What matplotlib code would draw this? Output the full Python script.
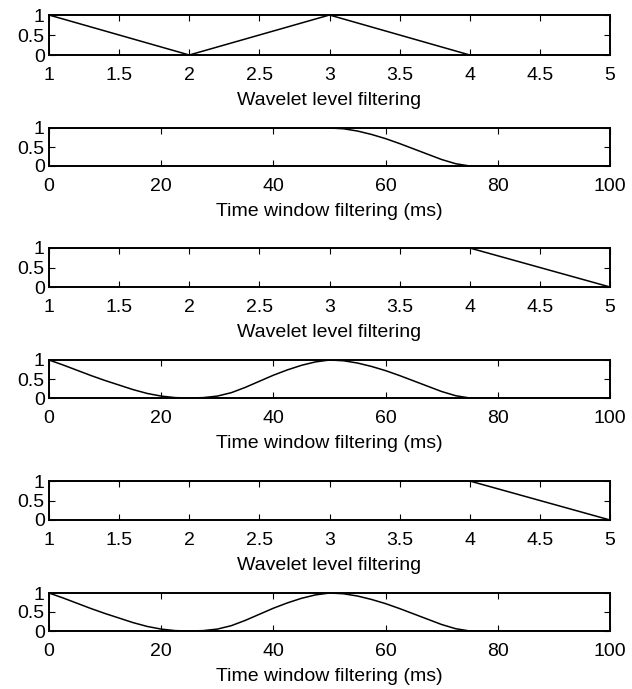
import matplotlib
matplotlib.use("Agg")
import matplotlib.pyplot as plt

plt.rcParams['font.family'] = ['Liberation Sans', 'DejaVu Sans']

# Wavelet level filtering curves
wl_x = [1, 2, 3, 4, 5]
wl_a = [1, 0, 1, 0, 0]
wl_b = [1, 1, 1, 1, 0]

# Time window filtering curves (ms)
tw_t = [0, 2.5, 5, 7.5, 10, 12.5, 15, 17.5, 20, 22.5, 25, 27.5, 30, 32.5, 35,
        37.5, 40, 42.5, 45, 47.5, 50, 52.5, 55, 57.5, 60, 62.5, 65, 67.5, 70,
        72.5, 75, 80, 90, 100]
tw_a = [1, 1, 1, 1, 1, 1, 1, 1, 1, 1, 1, 1, 1, 1, 1,
        1, 1, 1, 1, 1, 1.0, 0.98, 0.92, 0.83, 0.72, 0.59, 0.45, 0.31, 0.17,
        0.06, 0.0, 0, 0, 0]
tw_b = [1.0, 0.87, 0.73, 0.59, 0.46, 0.34, 0.22, 0.12, 0.05, 0.01, 0.0, 0.01,
        0.05, 0.14, 0.28, 0.44, 0.6, 0.74, 0.86, 0.95, 1.0, 0.98, 0.92, 0.83,
        0.72, 0.59, 0.45, 0.31, 0.17, 0.06, 0.0, 0, 0, 0]

wl_ticks = [1, 1.5, 2, 2.5, 3, 3.5, 4, 4.5, 5]
wl_ticklabels = ['1', '1.5', '2', '2.5', '3', '3.5', '4', '4.5', '5']
tw_ticks = [0, 20, 40, 60, 80, 100]
y_ticks = [0, 0.5, 1]
y_ticklabels = ['0', '0.5', '1']

W, H = 632, 689
fig = plt.figure(figsize=(W / 100, H / 100), dpi=100)

# (top, bottom) in pixels
boxes = [(15, 55), (128, 166), (248, 287), (360, 398), (481, 520), (593, 631)]
left, right = 49, 610

panels = [
    ('wl', wl_x, wl_a),
    ('tw', tw_t, tw_a),
    ('wl', wl_x, wl_b),
    ('tw', tw_t, tw_b),
    ('wl', wl_x, wl_b),
    ('tw', tw_t, tw_b),
]

FS = 14
for (top, bot), (kind, xs, ys) in zip(boxes, panels):
    ax = fig.add_axes([left / W, 1 - bot / H, (right - left) / W, (bot - top) / H])
    ax.plot(xs, ys, color='black', lw=1.1)
    ax.set_ylim(0, 1)
    ax.set_yticks(y_ticks)
    ax.set_yticklabels(y_ticklabels)
    if kind == 'wl':
        ax.set_xlim(1, 5)
        ax.set_xticks(wl_ticks)
        ax.set_xticklabels(wl_ticklabels)
        ax.set_xlabel('Wavelet level filtering', fontsize=FS, labelpad=6)
    else:
        ax.set_xlim(0, 100)
        ax.set_xticks(tw_ticks)
        ax.set_xlabel('Time window filtering (ms)', fontsize=FS, labelpad=6)
    ax.tick_params(direction='in', top=True, right=True, length=4, width=0.8,
                   labelsize=FS)
    ax.tick_params(axis='x', pad=8.5)
    ax.tick_params(axis='y', pad=3)
    for s in ax.spines.values():
        s.set_linewidth(1.4)

fig.savefig('out.png', dpi=100)
